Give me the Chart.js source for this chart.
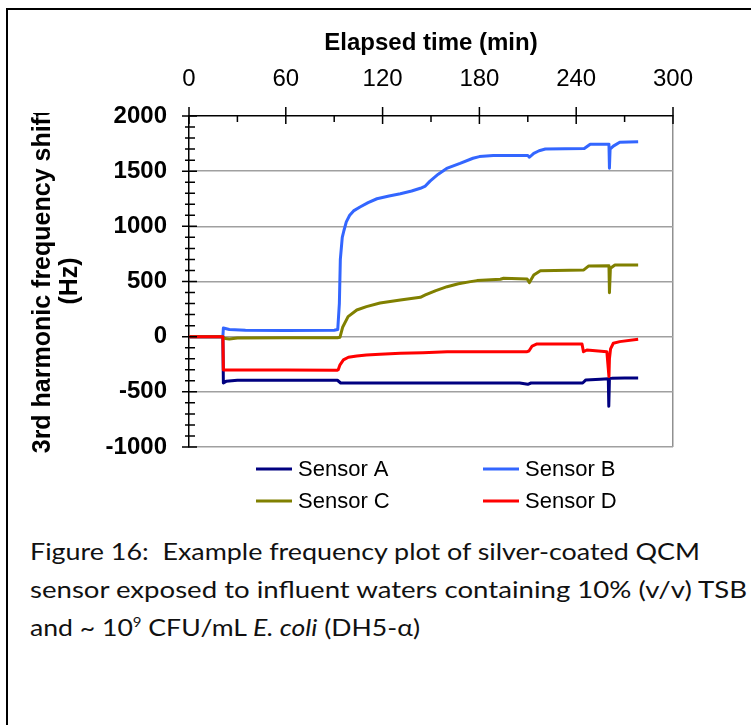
<!DOCTYPE html>
<html>
<head>
<meta charset="utf-8">
<script src="https://cdn.jsdelivr.net/npm/chart.js@4.4.1/dist/chart.umd.min.js"></script>
<style>
    html, body { margin: 0; padding: 0; background: #fff; }
    body { width: 751px; height: 725px; position: relative; overflow: hidden; }
    #frame { position: absolute; left: 6px; top: 8px; width: 760px; height: 730px; border-top: 2px solid #000; border-left: 2px solid #000; }
    #wrap { position: absolute; left: 0; top: 0; width: 751px; height: 520px; }
    #caption { position: absolute; left: 30px; top: 532px; font-family: 'Lato', sans-serif; font-size: 23px; line-height: 38px; color: #111; }
    #caption .cl { display: block; white-space: pre; }
    #caption .cl span.in { display: inline-block; transform-origin: 0 50%; }
    sup { font-size: 13px; vertical-align: 9px; line-height: 0; }
</style>
</head>
<body>
<div id="frame"></div>
<div id="wrap"><canvas id="qcmChart" width="751" height="520"></canvas></div>
<div id="caption">
    <div class="cl"><span class="in" data-w="670">Figure 16:  Example frequency plot of silver-coated QCM</span></div>
    <div class="cl"><span class="in" data-w="717">sensor exposed to influent waters containing 10% (v/v) TSB</span></div>
    <div class="cl"><span class="in" data-w="390">and ~ 10<sup>9</sup> CFU/mL <i>E. coli</i> (DH5-α)</span></div>
</div>
<script>
// elapsed time (min) and 3rd harmonic frequency shift (Hz)
const tA = [0, 21, 21.3, 23, 30, 60, 92, 94, 120, 180, 205, 210, 212, 244, 246, 255, 259.9, 260.2, 260.6, 262, 270, 278.4];
const vA = [0, 0, -420, -405, -395, -395, -395, -420, -420, -420, -420, -432, -420, -420, -392, -385, -382, -630, -380, -378, -375, -375];

const tB = [0, 21, 21.3, 25, 35, 60, 90, 92.2, 93.2, 93.8, 95, 96, 97.5, 99.6, 102, 106, 111, 116.5, 124, 131, 138, 143.4, 146.5, 149.4, 154.5, 159.7, 168, 176, 180, 188.6, 200, 210, 211, 213.7, 217, 220.9, 245, 248.7, 260.3, 260.6, 261, 263, 267, 278.4];
const vB = [0, 0, 78, 65, 58, 55, 58, 65, 300, 700, 900, 960, 1040, 1100, 1140, 1175, 1215, 1250, 1275, 1295, 1320, 1345, 1365, 1410, 1473, 1525, 1570, 1617, 1632, 1641, 1641, 1642, 1626, 1662, 1685, 1701, 1705, 1744, 1745, 1526, 1700, 1727, 1762, 1767];

const tC = [0, 21, 21.3, 25, 30, 60, 92, 93.6, 95.3, 98.6, 104, 110, 118.4, 131, 143.4, 146.5, 153, 160, 167, 174.5, 178.5, 193, 195, 209.6, 211, 213.7, 217.8, 244.7, 247.8, 260.3, 260.6, 261.2, 264, 278.4];
const vC = [0, 0, -14, -22, -12, -10, -10, -5, 88, 182, 242, 272, 305, 333, 357, 378, 418, 453, 480, 499, 508, 520, 529, 523, 490, 559, 598, 605, 641, 643, 399, 620, 650, 650];

const tD = [0, 21, 21.3, 60, 91.9, 92.5, 93.6, 95.7, 98.8, 104, 110, 118.4, 131, 145, 160, 209.6, 210.7, 212.7, 215.7, 243.6, 244.5, 246.6, 259, 260.3, 260.6, 261.3, 263, 267, 278.4];
const vD = [0, 0, -302, -302, -305, -300, -255, -211, -187, -175, -166, -160, -151, -145, -136, -136, -130, -85, -66, -66, -136, -121, -136, -362, -200, -110, -60, -45, -24];

const sensorLabels = ['Sensor A', 'Sensor B', 'Sensor C', 'Sensor D'];
const sensorColors = ['#000080', '#3366ff', '#808000', '#ff0000'];

const xTitle = 'Elapsed time (min)';
const yTitle = ['3rd harmonic frequency shift', '(Hz)'];

const axisFont = 'Liberation Sans, Arial, sans-serif';
const gridGray = '#a0a0a0';

function toPoints(t, v) {
    return t.map((x, i) => ({ x: x, y: v[i] }));
}

// tick marks crossing the axes, titles and the 2x2 legend
const decorations = {
    id: 'decorations',
    afterDraw(chart) {
        const { ctx, chartArea, scales: { x, y } } = chart;
        ctx.save();

        // y axis ticks, every 100 Hz, longer at 500
        ctx.strokeStyle = '#000';
        ctx.lineWidth = 1.5;
        ctx.beginPath();
        for (let v = y.min; v <= y.max; v += 100) {
            const py = y.getPixelForValue(v);
            const major = v % 500 === 0;
            ctx.moveTo(chartArea.left - (major ? 7 : 4), py);
            ctx.lineTo(chartArea.left + (major ? 8 : 6), py);
        }
        // top axis ticks, every 30 min, longer at 60
        for (let t = x.min; t <= x.max; t += 30) {
            const px = x.getPixelForValue(t);
            const major = t % 60 === 0;
            ctx.moveTo(px, chartArea.top - (major ? 9 : 0));
            ctx.lineTo(px, chartArea.top + (major ? 8 : 6));
        }
        ctx.stroke();

        // x title
        ctx.fillStyle = '#000';
        ctx.font = 'bold 24px ' + axisFont;
        ctx.textAlign = 'center';
        ctx.textBaseline = 'alphabetic';
        ctx.fillText(xTitle, (chartArea.left + chartArea.right) / 2, 50);

        // y title, clipped at the top like the original
        ctx.save();
        ctx.beginPath();
        ctx.rect(0, 113, 150, 400);
        ctx.clip();
        ctx.font = 'bold 25px ' + axisFont;
        const midY = 281;
        [50, 77].forEach((bx, i) => {
            ctx.save();
            ctx.translate(bx, midY);
            ctx.rotate(-Math.PI / 2);
            ctx.fillText(yTitle[i], 0, 0);
            ctx.restore();
        });
        ctx.restore();

        // legend
        const colX = [256, 483];
        const rowY = [476, 508];
        ctx.font = '22px ' + axisFont;
        ctx.textAlign = 'left';
        ctx.lineWidth = 3;
        chart.data.datasets.forEach((ds, i) => {
            const lx = colX[i % 2];
            const ly = rowY[Math.floor(i / 2)];
            ctx.strokeStyle = ds.borderColor;
            ctx.beginPath();
            ctx.moveTo(lx, ly - 7);
            ctx.lineTo(lx + 36, ly - 7);
            ctx.stroke();
            ctx.fillStyle = '#000';
            ctx.fillText(ds.label, lx + 42, ly);
        });

        ctx.restore();
    }
};

const seriesT = [tA, tB, tC, tD];
const seriesV = [vA, vB, vC, vD];

new Chart(document.getElementById('qcmChart').getContext('2d'), {
    type: 'line',
    data: {
        datasets: sensorLabels.map((label, i) => ({
            label: label,
            data: toPoints(seriesT[i], seriesV[i]),
            borderColor: sensorColors[i],
            backgroundColor: sensorColors[i],
            borderWidth: 3,
            borderJoinStyle: 'round',
            pointRadius: 0,
            tension: 0,
            fill: false,
            order: 4 - i
        }))
    },
    options: {
        responsive: false,
        animation: false,
        events: [],
        layout: { padding: { left: 0, top: 0, right: 78, bottom: 73 } },
        plugins: { legend: { display: false }, tooltip: { enabled: false } },
        scales: {
            x: {
                type: 'linear',
                position: 'top',
                min: 0,
                max: 300,
                afterFit: s => { s.height = 116; },
                ticks: { stepSize: 60, maxRotation: 0, padding: 22, color: '#000', font: { family: axisFont, size: 24 } },
                grid: { drawTicks: false, lineWidth: 1.5, color: c => c.tick.value === 300 ? '#909090' : 'rgba(0,0,0,0)' },
                border: { color: '#000', width: 1.5 }
            },
            y: {
                type: 'linear',
                min: -1000,
                max: 2000,
                afterFit: s => { s.width = 189; },
                ticks: { stepSize: 500, padding: 22, color: '#000', font: { family: axisFont, size: 24, weight: 'bold' }, callback: v => String(v) },
                grid: { drawTicks: false, lineWidth: 1.5, color: c => c.tick.value === 2000 ? 'rgba(0,0,0,0)' : gridGray },
                border: { color: '#000', width: 1.5 }
            }
        }
    },
    plugins: [decorations]
});

// fit each caption line to the width it has in the figure
document.querySelectorAll('#caption .in').forEach(el => {
    const w = el.getBoundingClientRect().width;
    el.style.transform = 'scaleX(' + (parseFloat(el.dataset.w) / w) + ')';
});
</script>
</body>
</html>
